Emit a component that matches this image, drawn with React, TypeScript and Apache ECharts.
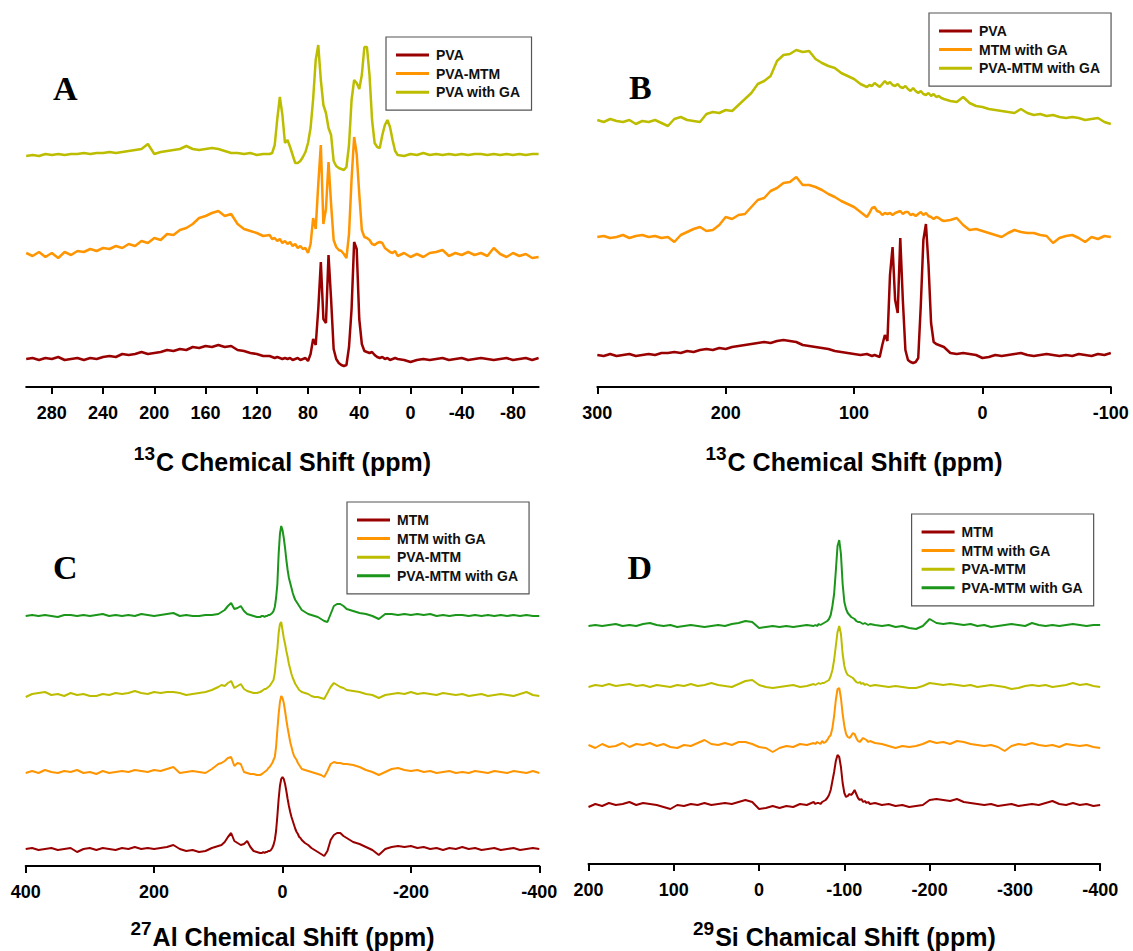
import React, { useEffect, useRef } from "react";
import * as echarts from "echarts";

const W = 1133;
const H = 951;
const FONT = "'Liberation Sans', Arial, Helvetica, sans-serif";
const SERIF = "'Liberation Serif', 'Times New Roman', serif";

const RED = "#990000";
const ORANGE = "#FF9500";
const OLIVE = "#BDBD00";
const GREEN = "#1B961B";

// ---------------- Panel A : 13C ----------------
const ppmA = [
  300, 295, 290, 285, 280, 275, 270, 265, 260, 255, 250, 245, 240, 235, 230, 225, 220, 215, 210, 205,
  200, 195, 190, 185, 180, 175, 170, 165, 160, 155, 150, 145, 140, 135, 130, 125, 120, 115, 110,
  108, 106, 104, 102, 100, 98, 96, 94, 92, 90, 88, 86, 84, 82, 80, 78, 76, 74, 72, 70,
  68, 66, 64, 62, 60, 58, 56, 54, 52, 50, 48, 46, 44, 42, 40, 38, 36, 34, 32, 30,
  28, 26, 24, 22, 20, 18, 16, 14, 12,
  10, 5, 0, -5, -10, -15, -20, -25, -30, -35, -40, -45, -50, -55, -60, -65, -70, -75, -80, -85, -90, -95, -100,
];
const namesA = ["PVA", "PVA-MTM", "PVA with GA"];
const offsetsA = [28, 133, 232];
const aPVA = [
  0, 1, -1, 1, 0, 2, -1, 0, 1, -1, 1, 0, 2, 3, 2, 5, 4, 5, 7, 5,
  6, 7, 9, 8, 10, 9, 12, 11, 13, 12, 14, 12, 13, 9, 8, 6, 5, 3, 3,
  2, 1, 2, 1, 0, 1, 0, 1, -1, 0, 1, -1, 0, 1, -2, 5, 20, 14, 50, 97,
  40, 36, 104, 60, 10, 0, -4, -6, -7, -6, 12, 50, 117, 110, 40, 15, 8, 7, 6, 7,
  4, 2, 1, 2, 0, 1, -1, 0, 1,
  0, -1, -3, -1, 0, -1, 0, 1, -1, 0, 1, -1, 0, 1, 0, -1, 0, 1, -1, 0, 1, -1, 1,
];
const aPVAMTM = [
  1, -2, 2, -3, 1, -4, 2, -1, 3, 2, 5, 3, 6, 5, 8, 6, 10, 8, 13, 11,
  16, 14, 20, 19, 24, 26, 30, 36, 38, 41, 43, 38, 40, 30, 25, 23, 21, 18, 19,
  15, 16, 13, 15, 11, 13, 10, 12, 8, 10, 6, 8, 5, 6, 1, 10, 36, 25, 70, 109,
  30, 45, 92, 50, 14, 7, 4, 3, 0, -4, 20, 75, 117, 100, 60, 24, 17, 16, 14, 10,
  9, 11, 12, 11, 6, 4, 2, 1, 3,
  -2, 1, -3, 0, -3, 1, 2, 4, -2, 1, -1, 2, -1, 1, -2, 6, 0, -3, 1, -2, 0, -4, -3,
];
const aPVAwithGA = [
  -1, 0, -1, 1, 0, 1, 0, 1, 1, 2, 1, 2, 2, 3, 2, 3, 4, 5, 6, 11,
  1, 3, 4, 5, 6, 9, 6, 5, 6, 7, 6, 4, 2, 2, 1, 2, 0, 1, 1,
  2, 10, 36, 58, 40, 12, 15, 8, 0, -8, -8, -6, -2, 3, 12, 27, 56, 95, 110, 75,
  50, 42, 27, 20, -6, -11, -13, -14, -15, -12, 10, 55, 75, 72, 66, 80, 108, 108, 80, 35,
  12, 8, 7, 20, 30, 35, 28, 15, 4,
  0, -1, 1, 0, 2, 0, 1, 0, 1, 0, 1, 0, 1, 1, 0, 1, 0, 1, 0, 1, 0, 1, 1,
];
const ticksA = [280, 240, 200, 160, 120, 80, 40, 0, -40, -80];

// ---------------- Panel B : 13C ----------------
const ppmB = [
  300, 295, 290, 285, 280, 275, 270, 265, 260, 255, 250, 245, 240, 235, 230, 225, 220, 215, 210, 205,
  200, 195, 190, 185, 180, 175, 170, 165, 160, 155, 150, 145, 140, 135, 130, 125, 120, 115, 110, 105,
  100, 95, 90,
  88, 86, 84, 82, 80, 78, 76, 74, 72, 70, 68, 66, 64, 62, 60, 58, 56, 54, 52, 50,
  48, 46, 44, 42, 40, 38, 36, 34, 32, 30,
  25, 20, 15, 10, 5, 0, -5, -10, -15, -20, -25, -30, -35, -40, -45, -50, -55, -60, -65, -70,
  -75, -80, -85, -90, -95, -100,
];
const namesB = ["PVA", "MTM with GA", "PVA-MTM with GA"];
const offsetsB = [32, 150, 266];
const bPVA = [
  0, -1, 1, -1, 0, 1, -1, 0, 1, 0, 2, 2, 3, 2, 4, 3, 5, 6, 5, 7,
  6, 8, 9, 10, 11, 12, 13, 12, 14, 15, 14, 13, 10, 9, 8, 7, 6, 4, 3, 2,
  1, 0, 1,
  0, -1, 0, -1, -2, 10, 20, 14, 80, 108, 55, 42, 117, 55, 5, -5, -7, -8, -7, -3,
  50, 115, 131, 90, 32, 13, 11, 10, 9, 8,
  2, 1, 2, 1, 0, -3, -2, 0, -1, 0, 1, 2, 0, -1, 0, 1, 0, -1, 0, -1,
  1, 0, -1, 1, 0, 2,
];
const bMTMwithGA = [
  0, 1, -1, 0, 2, -1, 1, 2, 0, 1, -1, 0, -5, 2, 5, 8, 10, 6, 7, 12,
  20, 18, 22, 23, 30, 37, 39, 46, 49, 54, 55, 60, 52, 52, 50, 47, 43, 40, 36, 33,
  30, 25, 20,
  24, 29, 30, 26, 25, 22, 24, 23, 24, 22, 24, 25, 26, 23, 25, 25, 22, 23, 21, 23,
  25, 22, 24, 21, 20, 18, 20, 19, 17, 16,
  17, 19, 12, 7, 8, 6, 4, 2, 0, 4, 7, 5, 4, 4, 2, 1, -6, -1, 1, 2,
  -1, -5, 0, -2, 1, 0,
];
const bPVAMTMwithGA = [
  1, -1, 2, 0, -1, 1, -3, 0, -1, 1, -2, -5, 2, 4, 1, 0, -1, 7, 9, 8,
  11, 10, 16, 22, 28, 37, 40, 45, 60, 66, 67, 71, 69, 70, 62, 58, 55, 53, 48, 45,
  42, 37, 34,
  36, 35, 38, 36, 34, 37, 40, 37, 39, 36, 35, 37, 34, 33, 35, 32, 30, 33, 30, 28,
  30, 27, 26, 28, 25, 27, 24, 25, 23, 22,
  20, 19, 24, 18, 15, 14, 12, 11, 10, 9, 8, 12, 8, 6, 7, 5, 6, 4, 3, 4,
  3, 1, 2, 3, -1, -3,
];
const ticksB = [300, 200, 100, 0, -100];

// ---------------- Panel C : 27Al ----------------
const ppmC = [
  400, 390, 380, 370, 360, 350, 340, 330, 320, 310, 300, 290, 280, 270, 260, 250, 240, 230, 220, 210,
  200, 190, 180, 170, 160, 150, 140, 130, 120, 110, 100,
  95, 90, 85, 80, 75, 70, 65, 60, 55, 50, 45, 40, 35,
  32, 30, 28, 26, 24, 22, 20, 18, 16, 14, 12, 10, 8, 6, 4, 2, 0, -2, -4, -6,
  -8, -10, -12, -14, -16, -18, -20, -22, -24, -26, -28, -30,
  -35, -40, -45, -50, -55, -60, -65, -70, -75, -80, -85, -90, -95, -100,
  -110, -120, -130, -140, -150, -160, -170, -180, -190, -200, -210, -220, -230, -240, -250, -260, -270, -280, -290, -300,
  -310, -320, -330, -340, -350, -360, -370, -380, -390, -400,
];
const namesC = ["MTM", "MTM with GA", "PVA-MTM", "PVA-MTM with GA"];
const offsetsC = [17, 94, 171, 250];
const cMTM = [
  0, 1, -1, 0, 1, -1, 0, 1, -3, 0, 1, -1, 1, 0, -1, 1, 0, 2, 0, 1,
  0, 1, 2, 4, 0, -2, -1, -3, -2, 1, 3,
  4, 7, 12, 16, 8, 6, 4, 5, 8, 2, -2, -3, -4,
  -4, -3, -4, -3, -3, -2, -2, -1, 1, 4, 9, 18, 33, 50, 63, 70, 72, 70, 65, 58,
  50, 43, 37, 32, 28, 24, 20, 17, 15, 12, 11, 9,
  6, 4, 1, -1, -3, -5, -7, -2, 9, 14, 16, 16, 13, 11,
  7, 5, 2, -1, -6, 0, 2, 3, 2, 3, 1, 2, 0, 1, -1, 1, 0, 2, 0, 1,
  -1, 0, 1, -1, 0, 1, -1, 0, 1, 0,
];
const cMTMwithGA = [
  -1, 1, -1, 2, 0, -1, 1, 0, 2, -1, 0, -2, 1, -1, 0, 1, 0, 2, 1, 0,
  2, 1, 3, 5, -1, 0, 1, 0, -1, 3, 8,
  9, 11, 14, 15, 6, 9, 8, 0, -1, -2, -2, -3, -3,
  -2, -1, 0, 1, 2, 4, 5, 7, 9, 12, 15, 25, 42, 58, 70, 76, 74, 69, 61, 52,
  44, 37, 30, 25, 20, 16, 14, 12, 9, 7, 5, 3,
  2, 1, 0, -1, -2, -3, -5, 1, 8, 10, 9, 9, 8, 8,
  7, 5, 2, 0, -3, 0, 3, 4, 2, 1, 2, 0, 1, -1, 0, 1, -1, 0, -1, 1,
  0, -1, 1, 0, -1, 1, 0, -1, 1, -1,
];
const cPVAMTM = [
  -2, 1, 2, 3, 0, 1, -1, 2, 0, 1, -1, -1, 1, 0, 2, 1, 2, 4, 2, 1,
  3, 2, 3, 3, 2, 0, 1, 2, 3, 5, 8,
  10, 9, 12, 14, 7, 9, 11, 6, 4, 3, 2, 2, 3,
  4, 5, 6, 6, 7, 8, 9, 11, 13, 15, 22, 35, 46, 62, 71, 73, 65, 57, 51, 44,
  38, 31, 26, 21, 17, 14, 11, 9, 7, 5, 4, 3,
  2, 1, -1, -2, -2, -3, -4, 2, 8, 12, 10, 8, 7, 5,
  4, 3, 1, 0, -3, 0, 1, 2, 1, 3, 1, 2, 1, 0, 2, 1, 0, 1, -1, 0,
  1, -1, 0, 1, 0, -1, 1, 3, 0, -1,
];
const cPVAMTMwithGA = [
  0, 1, 0, 1, 0, -1, 1, 1, 0, 1, 0, 1, 2, 0, 1, 0, 1, 0, 2, 1,
  0, 1, 2, 3, 0, 1, 0, 0, 1, 1, 2,
  4, 6, 10, 13, 7, 8, 10, 5, 2, 1, 0, -1, -1,
  0, 0, -1, 0, 0, 1, 1, 2, 3, 5, 9, 18, 32, 62, 82, 90, 86, 78, 68, 56,
  46, 38, 33, 28, 23, 19, 16, 14, 12, 10, 8, 6,
  4, 2, 1, 0, -1, -3, -5, -6, 2, 10, 12, 12, 10, 7,
  5, 3, 2, 0, -3, 2, 2, 1, 2, 1, 2, 1, 2, 0, 1, 0, 1, 1, 0, 1,
  0, 1, 0, 1, 0, 1, 0, 1, 0, 0,
];
const ticksC = [400, 200, 0, -200, -400];

// ---------------- Panel D : 29Si ----------------
const ppmD = [
  200, 192, 184, 176, 168, 160, 152, 144, 136, 128, 120, 112, 104, 96, 88, 80, 72, 64, 56, 48,
  40, 32, 24, 16, 8, 0, -8, -16, -24, -32, -40, -48, -56, -64,
  -66, -68, -70, -72, -74, -76, -78, -80, -82, -84, -86, -88, -90, -92, -94, -96, -98, -100, -102, -104,
  -106, -108, -110, -112, -114, -116, -118, -120, -122, -124, -126, -128, -130,
  -136, -144, -152, -160, -168, -176, -184, -192, -200, -208, -216, -224, -232, -240, -248, -256, -264, -272, -280, -288,
  -296, -304, -312, -320, -328, -336, -344, -352, -360, -368, -376, -384, -392, -400,
];
const namesD = ["MTM", "MTM with GA", "PVA-MTM", "PVA-MTM with GA"];
const offsetsD = [59, 118, 178, 238];
const dMTM = [
  -2, 1, -1, 2, 0, 1, 3, 0, 2, 1, 0, -2, -4, 0, -1, 1, 0, 2, 0, 1,
  2, 1, 3, 5, 3, -4, -3, -1, -3, -1, -2, 1, 0, 3,
  1, 2, 2, 1, 3, 4, 5, 7, 10, 15, 24, 33, 44, 50, 48, 38, 22, 12, 8, 9,
  11, 10, 12, 15, 11, 7, 5, 6, 3, 4, 2, 3, 1,
  2, 0, 1, -1, 0, -2, -1, 0, 5, 6, 5, 4, 6, 3, 2, 1, 0, 1, -1, 0,
  1, -1, 0, 1, 0, 2, 4, 1, 0, 2, 0, 1, -1, 0,
];
const dMTMwithGA = [
  1, -2, 2, -1, 0, 3, -1, 2, 1, 3, 0, 2, -1, -2, 1, 0, 3, 6, 2, 1,
  3, 1, 4, 4, 2, -1, -2, -6, -2, 0, -1, 2, 1, 3,
  2, 4, 3, 2, 5, 3, 4, 6, 9, 11, 18, 30, 46, 57, 58, 48, 32, 20, 12, 9,
  8, 10, 13, 12, 8, 5, 4, 6, 8, 7, 6, 4, 5,
  3, 2, 0, -2, 0, -1, 0, 2, 5, 3, 4, 2, 5, 4, 2, 1, 0, 1, -1, -5,
  0, 2, 1, 3, 1, 0, 1, -1, 2, 1, 0, 1, -1, -2,
];
const dPVAMTM = [
  -1, 1, 0, 2, 0, 1, 2, 0, 1, -1, 1, 0, -1, 1, 0, 2, 0, 1, 3, 1,
  0, -1, 2, 5, 6, 1, -1, -2, -1, 0, 1, -1, 0, 2,
  1, 2, 3, 2, 3, 3, 4, 5, 6, 10, 16, 26, 40, 54, 60, 52, 32, 20, 14, 11,
  10, 9, 8, 6, 4, 3, 4, 2, 3, 1, 2, 1, 0,
  1, 0, -1, 0, -1, -2, -2, 0, 3, 2, 1, 2, 1, 0, 1, -1, 0, 1, 0, -1,
  -3, -2, 0, 1, 0, 1, -1, 0, 1, 3, 1, 2, 0, -1,
];
const dPVAMTMwithGA = [
  0, 1, 0, 1, 2, 0, 1, 0, 2, 3, 1, 0, 1, -1, 0, 1, 0, -1, 0, 1,
  0, 2, 3, 5, 4, -2, -1, 0, -1, 0, -1, 0, 1, 0,
  1, 0, 2, 1, 2, 3, 4, 5, 7, 11, 20, 32, 55, 80, 86, 72, 42, 24, 17, 13,
  11, 9, 8, 7, 5, 4, 4, 3, 2, 3, 2, 1, 2,
  1, 0, 1, -1, 0, -2, -3, 0, 7, 3, 2, 3, 2, 1, 2, 0, 1, -1, 0, 1,
  2, 1, 0, 3, 1, 0, 1, 0, 1, 2, 1, 0, 1, 1,
];
const ticksD = [200, 100, 0, -100, -200, -300, -400];

// ---------------- builders ----------------
type PanelCfg = {
  label: string;
  labelX: number;
  labelY: number;
  gridLeft: number;
  gridRight: number;
  axisY: number;
  min: number;
  max: number;
  ticks: number[];
  sup: string;
  title: string;
  nameGap: number;
  ppm: number[];
  names: string[];
  colors: string[];
  offsets: number[];
  values: number[][];
  lineWidth: number;
  legendLeft: number;
  legendTop: number;
};

const Y_RANGE = 380;

function buildOption(p: PanelCfg) {
  const series = p.names.map((name, k) => ({
    type: "line",
    name,
    color: p.colors[k],
    symbol: "none",
    showSymbol: false,
    silent: true,
    lineStyle: { color: p.colors[k], width: p.lineWidth },
    data: p.ppm.map((x, i) => [x, p.offsets[k] + p.values[k][i]]),
  }));
  return {
    animation: false,
    textStyle: { fontFamily: FONT },
    grid: {
      left: p.gridLeft,
      right: W - p.gridRight,
      top: p.axisY - Y_RANGE,
      bottom: H - p.axisY,
      containLabel: false,
      outerBoundsMode: "none",
    },
    xAxis: {
      type: "value",
      min: p.min,
      max: p.max,
      inverse: true,
      name: `{s|${p.sup}}{t|${p.title}}`,
      nameLocation: "middle",
      nameGap: p.nameGap,
      nameTextStyle: {
        color: "#000",
        fontFamily: FONT,
        fontWeight: "bold",
        rich: {
          s: { fontSize: 19, fontWeight: "bold", fontFamily: FONT, color: "#000", lineHeight: 19, verticalAlign: "top", padding: [0, 1, 0, 0] },
          t: { fontSize: 25, fontWeight: "bold", fontFamily: FONT, color: "#000", lineHeight: 30, verticalAlign: "bottom" },
        },
      },
      axisLine: { show: true, onZero: false, lineStyle: { color: "#000", width: 2 } },
      axisTick: { show: true, inside: false, length: 7, customValues: p.ticks, lineStyle: { color: "#000", width: 2 } },
      axisLabel: {
        show: true,
        customValues: p.ticks,
        margin: 17,
        fontSize: 18,
        fontWeight: "bold",
        color: "#000",
        fontFamily: FONT,
        formatter: (v: number) => String(v),
      },
      splitLine: { show: false },
    },
    yAxis: { type: "value", min: 0, max: Y_RANGE, show: false },
    legend: {
      orient: "vertical",
      left: p.legendLeft,
      top: p.legendTop,
      padding: [11, 11, 11, 10],
      itemWidth: 33,
      itemHeight: 3,
      itemGap: 4.6,
      icon: "rect",
      selectedMode: false,
      borderColor: "#555",
      borderWidth: 1.2,
      backgroundColor: "#fff",
      textStyle: { fontFamily: FONT, fontWeight: "bold", fontSize: 14, color: "#111", padding: [0, 0, 0, 2] },
      data: p.names,
    },
    graphic: [
      {
        type: "text",
        x: p.labelX,
        y: p.labelY,
        silent: true,
        style: {
          text: p.label,
          font: `bold 34px ${SERIF}`,
          fill: "#000",
          align: "left",
          verticalAlign: "middle",
        },
      },
    ],
    series,
  };
}

const panels: PanelCfg[] = [
  {
    label: "A", labelX: 53, labelY: 88,
    gridLeft: 26.2, gridRight: 538.6, axisY: 387,
    min: -100, max: 300, ticks: ticksA,
    sup: "13", title: "C Chemical Shift (ppm)", nameGap: 57,
    ppm: ppmA, names: namesA, colors: [RED, ORANGE, OLIVE], offsets: offsetsA,
    values: [aPVA, aPVAMTM, aPVAwithGA], lineWidth: 2.5,
    legendLeft: 386, legendTop: 37,
  },
  {
    label: "B", labelX: 629, labelY: 87,
    gridLeft: 597.3, gridRight: 1110.8, axisY: 387,
    min: -100, max: 300, ticks: ticksB,
    sup: "13", title: "C Chemical Shift (ppm)", nameGap: 57,
    ppm: ppmB, names: namesB, colors: [RED, ORANGE, OLIVE], offsets: offsetsB,
    values: [bPVA, bMTMwithGA, bPVAMTMwithGA], lineWidth: 2.5,
    legendLeft: 929, legendTop: 13,
  },
  {
    label: "C", labelX: 53, labelY: 567.5,
    gridLeft: 25.7, gridRight: 539.3, axisY: 866,
    min: -400, max: 400, ticks: ticksC,
    sup: "27", title: "Al Chemical Shift (ppm)", nameGap: 53,
    ppm: ppmC, names: namesC, colors: [RED, ORANGE, OLIVE, GREEN], offsets: offsetsC,
    values: [cMTM, cMTMwithGA, cPVAMTM, cPVAMTMwithGA], lineWidth: 2,
    legendLeft: 347, legendTop: 502,
  },
  {
    label: "D", labelX: 627.6, labelY: 567.5,
    gridLeft: 588.5, gridRight: 1100.2, axisY: 864,
    min: -400, max: 200, ticks: ticksD,
    sup: "29", title: "Si Chamical Shift (ppm)", nameGap: 55,
    ppm: ppmD, names: namesD, colors: [RED, ORANGE, OLIVE, GREEN], offsets: offsetsD,
    values: [dMTM, dMTMwithGA, dPVAMTM, dPVAMTMwithGA], lineWidth: 2,
    legendLeft: 911.6, legendTop: 514,
  },
];

function Chart({ option }: { option: any }) {
  const ref = useRef<HTMLDivElement | null>(null);
  useEffect(() => {
    if (!ref.current) return;
    const chart = echarts.init(ref.current, null, { renderer: "svg" });
    chart.setOption(option);
    return () => chart.dispose();
  }, [option]);
  return <div ref={ref} style={{ position: "absolute", left: 0, top: 0, width: W, height: H }} />;
}

const options = panels.map(buildOption);

export default function App() {
  return (
    <div style={{ position: "absolute", left: 0, top: 0, width: W, height: H, background: "#fff", overflow: "hidden" }}>
      {options.map((o, i) => (
        <Chart key={i} option={o} />
      ))}
    </div>
  );
}
